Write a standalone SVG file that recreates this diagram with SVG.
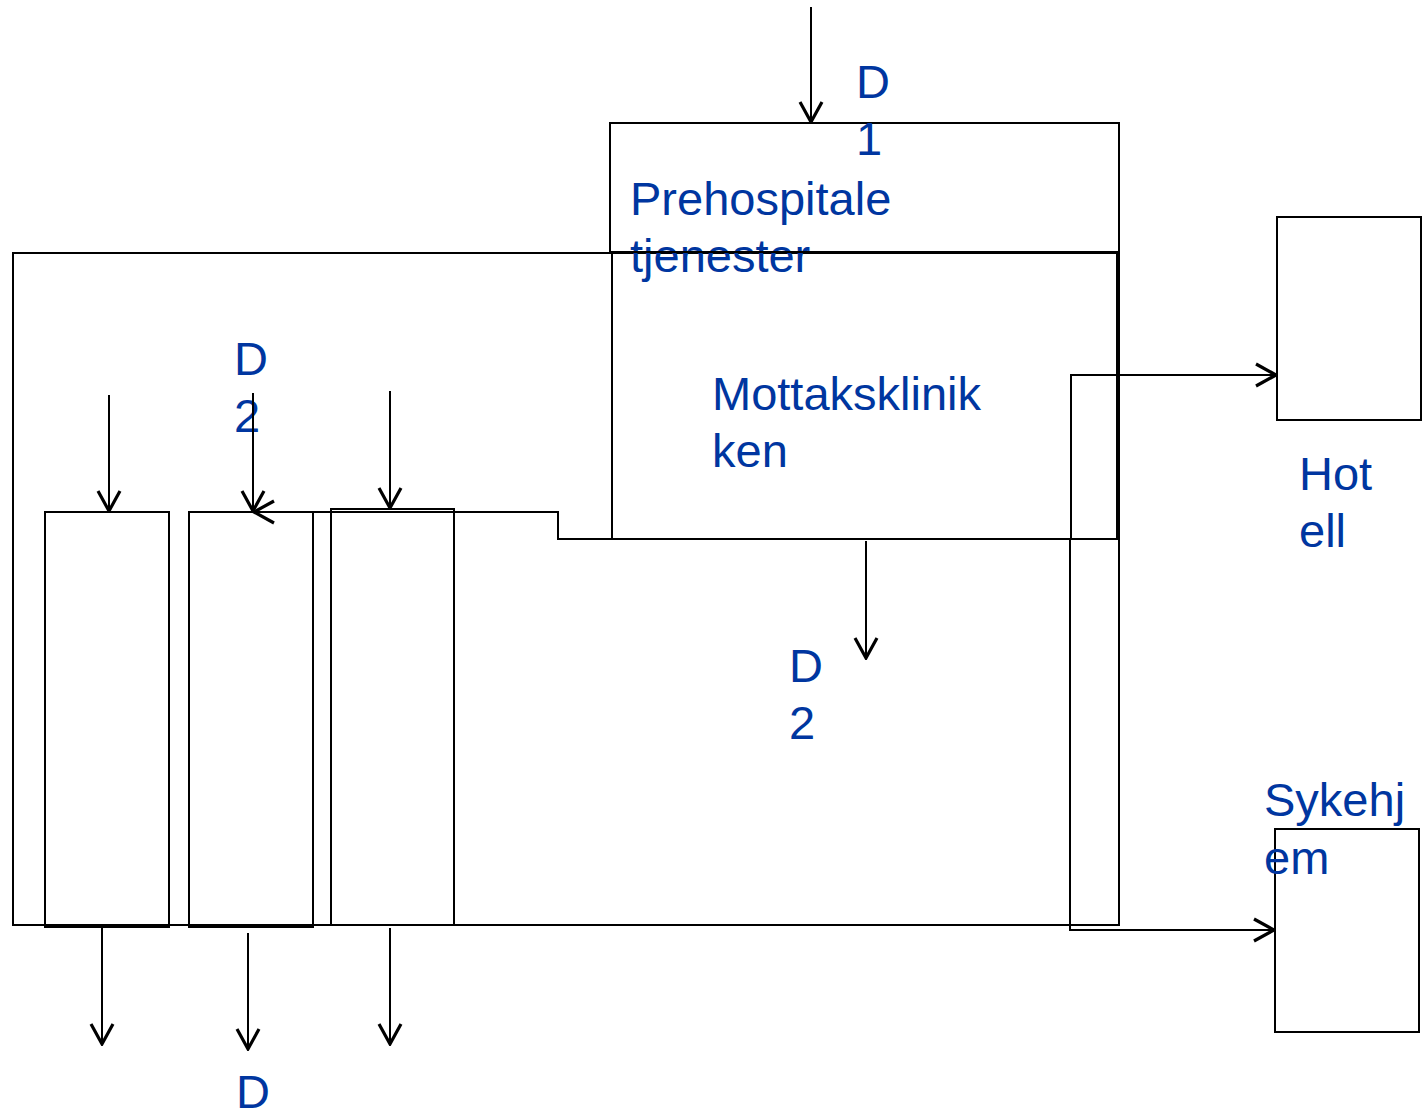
<svg xmlns="http://www.w3.org/2000/svg" width="1425" height="1113" viewBox="0 0 1425 1113">
<defs>
<style>
.box{fill:none;stroke:#000;stroke-width:2}
.ln{fill:none;stroke:#000;stroke-width:2}
.arr{fill:none;stroke:#000;stroke-width:2;marker-end:url(#v)}
.t{font-family:"Liberation Sans",Arial,sans-serif;font-size:47px;fill:#0036A0}
</style>
<marker id="v" viewBox="0 0 24 26" refX="22" refY="13" markerWidth="24" markerHeight="26" markerUnits="userSpaceOnUse" orient="auto">
<path d="M2,2 L22,13 L2,24" fill="none" stroke="#000" stroke-width="3.2"/>
</marker>
</defs>
<rect width="1425" height="1113" fill="#fff"/>
<g id="outer"><rect class="box" x="13" y="253" width="1106" height="672"/></g>
<g id="prehospitale">
<rect class="box" x="610" y="123" width="509" height="129"/>
<text class="t" x="630" y="215">Prehospitale</text>
<text class="t" x="630" y="272">tjenester</text>
</g>
<g id="mottaksklinikken">
<rect class="box" x="612" y="252" width="505" height="287"/>
<text class="t" x="712" y="410">Mottaksklinik</text>
<text class="t" x="712" y="467">ken</text>
</g>
<g id="col1"><rect class="box" x="45" y="512" width="124" height="415"/></g>
<g id="col2"><rect class="box" x="189" y="512" width="124" height="415"/></g>
<g id="col3"><rect class="box" x="331" y="509" width="123" height="416"/></g>
<g id="hotell">
<rect class="box" x="1277" y="217" width="144" height="203"/>
<text class="t" x="1299" y="490">Hot</text>
<text class="t" x="1299" y="547">ell</text>
</g>
<g id="sykehjem">
<rect class="box" x="1275" y="829" width="144" height="203"/>
<text class="t" x="1264" y="816">Sykehj</text>
<text class="t" x="1264" y="874">em</text>
</g>
<g id="labels">
<text class="t" x="856" y="98">D</text>
<text class="t" x="856" y="155">1</text>
<text class="t" x="234" y="375">D</text>
<text class="t" x="234" y="432">2</text>
<text class="t" x="789" y="682">D</text>
<text class="t" x="789" y="739">2</text>
<text class="t" x="236" y="1108">D</text>
</g>
<g id="connectors">
<line class="arr" x1="811" y1="7" x2="811" y2="122"/>
<line class="arr" x1="109" y1="395" x2="109" y2="511"/>
<line class="arr" x1="253" y1="393" x2="253" y2="511"/>
<line class="arr" x1="390" y1="391" x2="390" y2="508"/>
<polyline class="arr" points="612,539 558,539 558,512 254,512"/>
<line class="arr" x1="866" y1="541" x2="866" y2="658"/>
<line class="arr" x1="102" y1="928" x2="102" y2="1044"/>
<line class="arr" x1="248" y1="933" x2="248" y2="1049"/>
<line class="arr" x1="390" y1="928" x2="390" y2="1044"/>
<polyline class="arr" points="1071,539 1071,375 1276,375"/>
<polyline class="arr" points="1070,539 1070,930 1274,930"/>
</g>
</svg>
